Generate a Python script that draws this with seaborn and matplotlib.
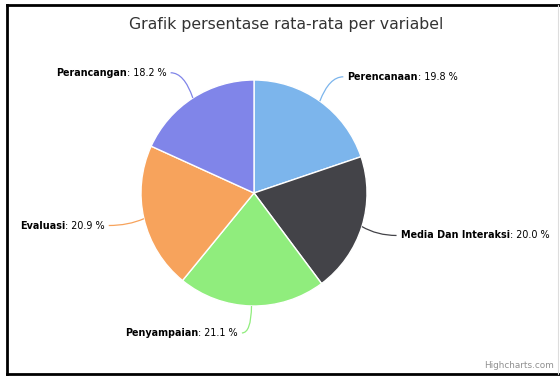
import matplotlib
matplotlib.use("Agg")
import matplotlib.pyplot as plt
import seaborn as sns
import numpy as np
from matplotlib.path import Path
from matplotlib.patches import PathPatch

# ---- data ----
categories = ["Perencanaan", "Media Dan Interaksi", "Penyampaian", "Evaluasi", "Perancangan"]
values = [19.8, 20.0, 21.1, 20.9, 18.2]
colors = ["#7cb5ec", "#434348", "#90ed7d", "#f7a35c", "#8085e9"]
title = "Grafik persentase rata-rata per variabel"
credit = "Highcharts.com"

sns.set_theme(style="white")
plt.rcParams["font.family"] = ["DejaVu Sans"]

W, H = 560, 379
fig = plt.figure(figsize=(W / 100, H / 100), dpi=100)
fig.patch.set_facecolor("white")
ax = fig.add_axes([0, 0, 1, 1])

cx, cy, r = 254, H - 193, 113
wedges, _ = ax.pie(values, colors=colors, startangle=90, counterclock=False,
                   center=(cx, cy), radius=r, frame=True,
                   wedgeprops=dict(edgecolor="white", linewidth=1))
ax.set_xlim(0, W)
ax.set_ylim(0, H)
ax.set_aspect("equal")
ax.axis("off")

fs = 6.9
total = sum(values)
for w, name, val, col in zip(wedges, categories, values, colors):
    mid = np.deg2rad((w.theta1 + w.theta2) / 2.0)
    s, c = np.cos(mid), np.sin(mid)
    ex, ey = cx + r * s, cy + r * c
    dist = 30 if c > -0.9 else 27
    lx, ly = cx + (r + dist) * s, cy + (r + dist) * c
    right = s >= 0
    tx = lx + 10 if right else lx - 10
    if not right and c < -0.9:
        tx = lx - 13
    endx = tx - 4 if right else tx + 4
    px, py = cx + (r + 16) * s, ly
    path = Path([(ex, ey), (px, py), (endx, ly)], [Path.MOVETO, Path.CURVE3, Path.CURVE3])
    ax.add_patch(PathPatch(path, fill=False, edgecolor=col, linewidth=0.9))
    valtxt = ": %.1f %%" % (val / total * 100)
    if right:
        t1 = ax.text(tx, ly, name, ha="left", va="center", fontsize=fs,
                     fontweight="bold", color="black")
        ax.annotate(valtxt, xy=(1, 0), xycoords=t1, ha="left", va="bottom",
                    fontsize=fs, color="black")
    else:
        t1 = ax.text(tx, ly, valtxt, ha="right", va="center", fontsize=fs,
                     color="black")
        ax.annotate(name, xy=(0, 0), xycoords=t1, ha="right", va="bottom",
                    fontsize=fs, fontweight="bold", color="black")

ax.text(286, H - 24, title, ha="center", va="center", fontsize=11.3, color="#333333")
ax.text(554, H - 366, credit, ha="right", va="center", fontsize=6.4, color="#909090")

# frame
ax.plot([7, 7], [H - 5, H - 374], color="black", lw=2, solid_capstyle="projecting")
ax.plot([7, W], [H - 5, H - 5], color="black", lw=2, solid_capstyle="projecting")
ax.plot([7, W], [H - 374, H - 374], color="black", lw=2, solid_capstyle="projecting")
ax.plot([558, 558], [H - 5, H - 374], color="#dddddd", lw=0.8)

fig.savefig("out.png", dpi=100, facecolor="white")
